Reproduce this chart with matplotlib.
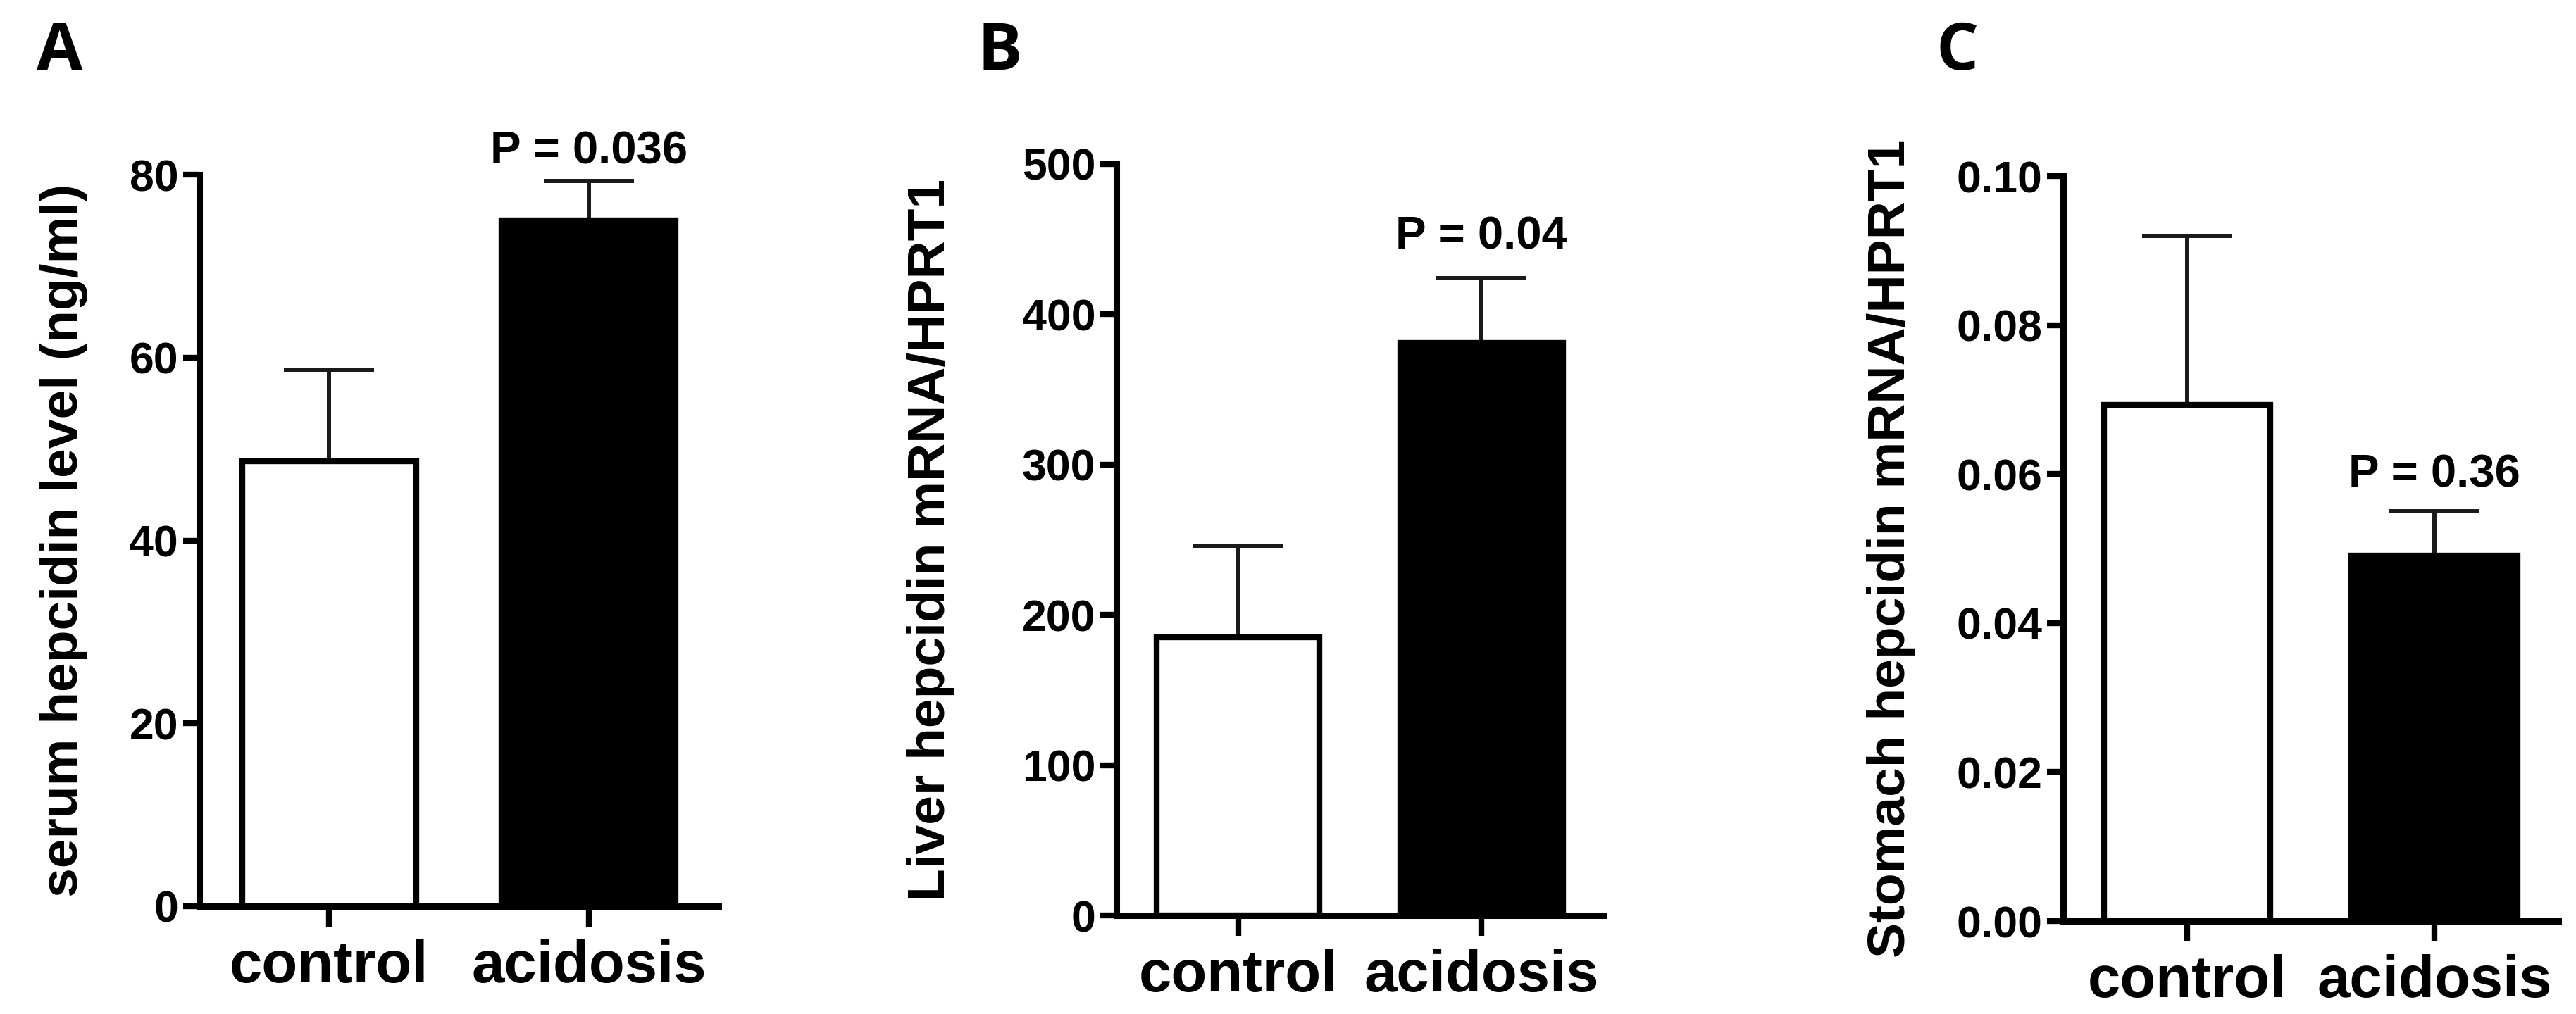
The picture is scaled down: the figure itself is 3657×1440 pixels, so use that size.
import numpy as np
import matplotlib
matplotlib.use("Agg")
import matplotlib.pyplot as plt

plt.rcParams['font.family'] = ['Liberation Sans', 'DejaVu Sans']
plt.rcParams['font.weight'] = 'bold'

groups = ['control', 'acidosis']

serum_mean = [48.7, 75.0]
serum_sem = [10.0, 4.3]
liver_mean = [185, 381]
liver_sem = [61, 43]
stomach_mean = [0.0693, 0.0491]
stomach_sem = [0.0227, 0.0059]

panel_letters = ['A', 'B', 'C']
ylabels = ['serum hepcidin level (ng/ml)',
           'Liver hepcidin mRNA/HPRT1',
           'Stomach hepcidin mRNA/HPRT1']
p_texts = ['P = 0.036', 'P = 0.04', 'P = 0.36']
yticks = [[0, 20, 40, 60, 80],
          [0, 100, 200, 300, 400, 500],
          [0.00, 0.02, 0.04, 0.06, 0.08, 0.10]]
ytick_fmt = ['{:.0f}', '{:.0f}', '{:.2f}']

means = [serum_mean, liver_mean, stomach_mean]
sems = [serum_sem, liver_sem, stomach_sem]

W, H = 3657, 1440
# axes boxes in pixels: left, right, y of 0, y of top
boxes = [(283, 1020, 1287, 248), (1585, 2276, 1300, 233), (2929, 3632, 1308, 250)]
label_x = [-0.214, -0.331, -0.299]
p_off = [18, 30, 25]
letter_x = [52, 1388, 2748]

fig = plt.figure(figsize=(W / 100, H / 100), dpi=100)

for i in range(3):
    l, r, y0, y1 = boxes[i]
    ax = fig.add_axes([l / W, 1 - y0 / H, (r - l) / W, (y0 - y1) / H])
    x = np.arange(len(groups))
    ax.errorbar(x, means[i], yerr=[np.zeros(2), sems[i]], fmt='none',
                ecolor='#1a1a1a', elinewidth=4.3, capsize=46, capthick=4.3, zorder=1)
    ax.bar(x, means[i], width=0.67, color=['white', 'black'], edgecolor='black',
           linewidth=6, zorder=2)
    ax.set_xlim(-0.5, 1.5)
    ax.set_ylim(yticks[i][0], yticks[i][-1])
    ax.set_yticks(yticks[i])
    ax.set_yticklabels([ytick_fmt[i].format(v) for v in yticks[i]], fontsize=45, fontweight='bold')
    ax.set_xticks(x)
    ax.set_xticklabels(groups, fontsize=60, fontweight='bold')
    for s in ['top', 'right']:
        ax.spines[s].set_visible(False)
    for s in ['left', 'bottom']:
        ax.spines[s].set_linewidth(6.5)
    ax.tick_params(axis='y', length=16.5, width=6, pad=5, direction='out')
    ax.tick_params(axis='x', length=21, width=6, pad=13, direction='out')
    ax.set_ylabel(ylabels[i], fontsize=54, fontweight='bold')
    ax.yaxis.set_label_coords(label_x[i], 0.5)
    ax.annotate(p_texts[i], xy=(1, means[i][1] + sems[i][1]), xytext=(0, p_off[i]),
                textcoords='offset points', ha='center', va='baseline',
                fontsize=47, fontweight='bold', annotation_clip=False)
    fig.text(letter_x[i] / W, 1 - 99 / H, panel_letters[i], fontsize=68,
             fontweight='bold', family='Open Sans', ha='left', va='baseline')

fig.savefig('out.png', dpi=100, facecolor='white')
